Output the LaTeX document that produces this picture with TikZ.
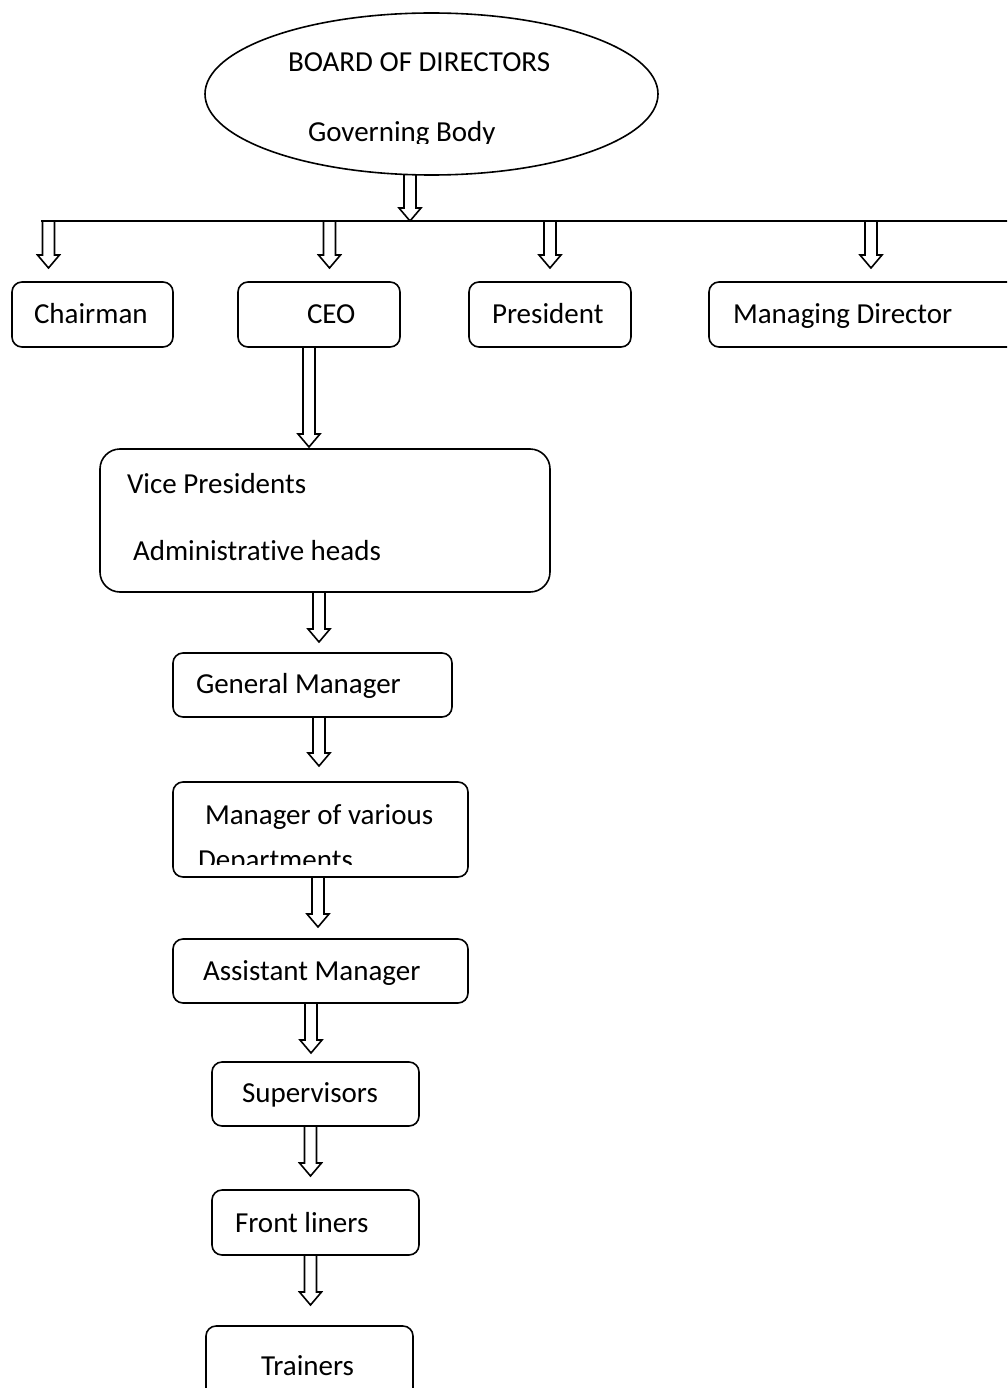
\documentclass[tikz,border=0pt]{standalone}
\usepackage{fontspec}
\setmainfont{Carlito}[Ligatures=NoCommon]
\usetikzlibrary{calc,shapes.geometric}
\tikzset{
  box/.style={draw, rounded corners=10pt, line width=1.6pt, inner sep=0pt, outer sep=0pt},
  txt/.style={anchor=base west, inner sep=0pt, outer sep=0pt, font=\fontsize{29}{35}\selectfont},
  arrowline/.style={line width=1.6pt, line join=miter},
}
% hollow block arrow: x and top from #1, tip height from #2
\newcommand\hollowdown[2]{%
  \draw[arrowline] let \p1=(#1), \p2=(#2) in
    (\x1-6pt,\y1) -- (\x1-6pt,\y2+13pt) -- (\x1-11pt,\y2+13pt) -- (\x1,\y2)
    -- (\x1+11pt,\y2+13pt) -- (\x1+6pt,\y2+13pt) -- (\x1+6pt,\y1);}
\begin{document}
\begin{tikzpicture}[x=1pt,y=-1pt]
\clip (0,0) rectangle (1007,1388);

% governing body
\node[draw, ellipse, minimum width=453pt, minimum height=162pt, inner sep=0pt, outer sep=0pt, line width=1.6pt] (board) at (431.5,94) {};
\node[txt] (boardA) at (288,72) {BOARD OF DIRECTORS};
\begin{scope}
  \clip (0,0) rectangle (1007,143.5);
  \node[txt] (boardB) at (308,142) {Governing Body};
\end{scope}

% distribution bar
\coordinate (barL) at (41,221);
\coordinate (barR) at (1010,221);
\coordinate (bar0) at (410,221);
\draw[line width=1.6pt] (barL) -- (barR);
\hollowdown{[xshift=-21.5pt]board.south}{bar0}

% top executives
\node[box, minimum width=161pt, minimum height=65pt] (chair) at (92.5,314.5) {};
\node[box, minimum width=162pt, minimum height=65pt] (ceo) at (319,314.5) {};
\node[box, minimum width=162pt, minimum height=65pt] (pres) at (550,314.5) {};
\node[box, minimum width=321pt, minimum height=65pt] (md) at (869.5,314.5) {};
\node[txt] (chairT) at (34,323) {Chairman};
\node[txt] (ceoT) at (307,323) {CEO};
\node[txt] (presT) at (492,323) {President};
\node[txt] (mdT) at (733,323) {Managing Director};

\coordinate (drop1) at (48.5,221);
\coordinate (drop2) at (329.5,221);
\coordinate (drop3) at (550,221);
\coordinate (drop4) at (871,221);
\hollowdown{drop1}{[yshift=14pt]chair.north}
\hollowdown{drop2}{[yshift=14pt]ceo.north}
\hollowdown{drop3}{[yshift=14pt]pres.north}
\hollowdown{drop4}{[yshift=14pt]md.north}

% chain of command
\node[box, rounded corners=20pt, minimum width=450pt, minimum height=143pt] (vp) at (325,520.5) {};
\node[txt] (vpA) at (127,493) {Vice Presidents};
\node[txt] (vpB) at (133,560) {Administrative heads};

\node[box, minimum width=279pt, minimum height=64pt] (gm) at (312.5,685) {};
\node[txt] (gmT) at (196,693) {General Manager};

\node[box, minimum width=295pt, minimum height=95pt] (mvd) at (320.5,829.5) {};
\node[txt] (mvdA) at (205,824) {Manager of various};
\begin{scope}
  \clip (0,800) rectangle (1007,864);
  \node[txt] (mvdB) at (198,869) {Departments};
\end{scope}

\node[box, minimum width=295pt, minimum height=64pt] (am) at (320.5,971) {};
\node[txt] (amT) at (203,980) {Assistant Manager};

\node[box, minimum width=207pt, minimum height=64pt] (sup) at (315.5,1094) {};
\node[txt] (supT) at (242,1102) {Supervisors};

\node[box, minimum width=207pt, minimum height=65pt] (front) at (315.5,1222.5) {};
\node[txt] (frontT) at (235,1232) {Front liners};

\node[box, minimum width=207pt, minimum height=74pt] (train) at (309.5,1363) {};
\node[txt] (trainT) at (261,1375) {Trainers};

\hollowdown{[xshift=-10pt]ceo.south}{[yshift=2pt]vp.north}
\hollowdown{[xshift=-6pt]vp.south}{[yshift=11pt]gm.north}
\hollowdown{[xshift=6.5pt]gm.south}{[yshift=16pt]mvd.north}
\hollowdown{[xshift=-2.5pt]mvd.south}{[yshift=12pt]am.north}
\hollowdown{[xshift=-9.5pt]am.south}{[yshift=9pt]sup.north}
\hollowdown{[xshift=-5pt]sup.south}{[yshift=14pt]front.north}
\hollowdown{[xshift=-5pt]front.south}{[yshift=21pt]train.north}
\end{tikzpicture}
\end{document}
